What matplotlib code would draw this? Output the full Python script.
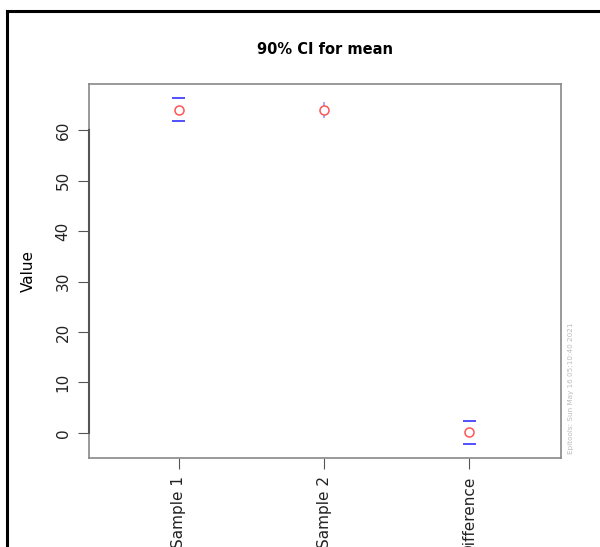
import matplotlib.pyplot as plt
from matplotlib.lines import Line2D

labels = ['Sample 1', 'Sample 2', 'Difference']
means = [64.0, 64.0, 0.1]
lower = [61.8, 62.4, -2.2]
upper = [66.3, 65.6, 2.4]
yticks = [0, 10, 20, 30, 40, 50, 60]

fig = plt.figure(figsize=(6, 5.47), dpi=100)
ax = fig.add_axes([0.148, 0.163, 0.787, 0.683])
xs = [1, 2, 3]

# sample 2 has a narrow CI: faint whisker, the others get caps
ax.vlines(xs[1], lower[1], upper[1], color='#9999ff', lw=1.2, zorder=2)
for i in (0, 2):
    ax.hlines([lower[i], upper[i]], xs[i] - 0.045, xs[i] + 0.045, color='#3333ff', lw=1.2, zorder=3)
ax.plot(xs, means, 'o', mfc='white', mec='#ff5555', ms=6.5, mew=1.1, zorder=4)

ax.set_xlim(0.38, 3.63)
ax.set_ylim(-4.95, 69.1)
ax.set_xticks(xs)
ax.set_xticklabels(labels, rotation=90, fontsize=11, color='#222222')
ax.set_yticks(yticks)
ax.set_yticklabels([str(v) for v in yticks], rotation=90, va='center', fontsize=11, color='#222222')
ax.tick_params(direction='out', length=8, color='#555555', pad=5)
for s in ax.spines.values():
    s.set_color('#888888')
    s.set_linewidth(1.2)
ax.plot([0.38, 0.38], [0, 60], color='#555555', lw=1.5, clip_on=False, zorder=5)

ax.set_ylabel('Value', fontsize=11, labelpad=14)
ax.set_title('90% CI for mean', fontsize=10.5, fontweight='bold', pad=22)

fig.text(0.951, 0.17, 'Epitools: Sun May 16 05:10:40 2021', rotation=90,
         fontsize=5.2, color='#bbbbbb', ha='center', va='bottom')

# outer frame
fig.add_artist(Line2D([0.012, 0.012], [0, 0.98], color='black', lw=2.2))
fig.add_artist(Line2D([0.012, 1.0], [0.98, 0.98], color='black', lw=2.2))

plt.savefig('out.png', dpi=100)
